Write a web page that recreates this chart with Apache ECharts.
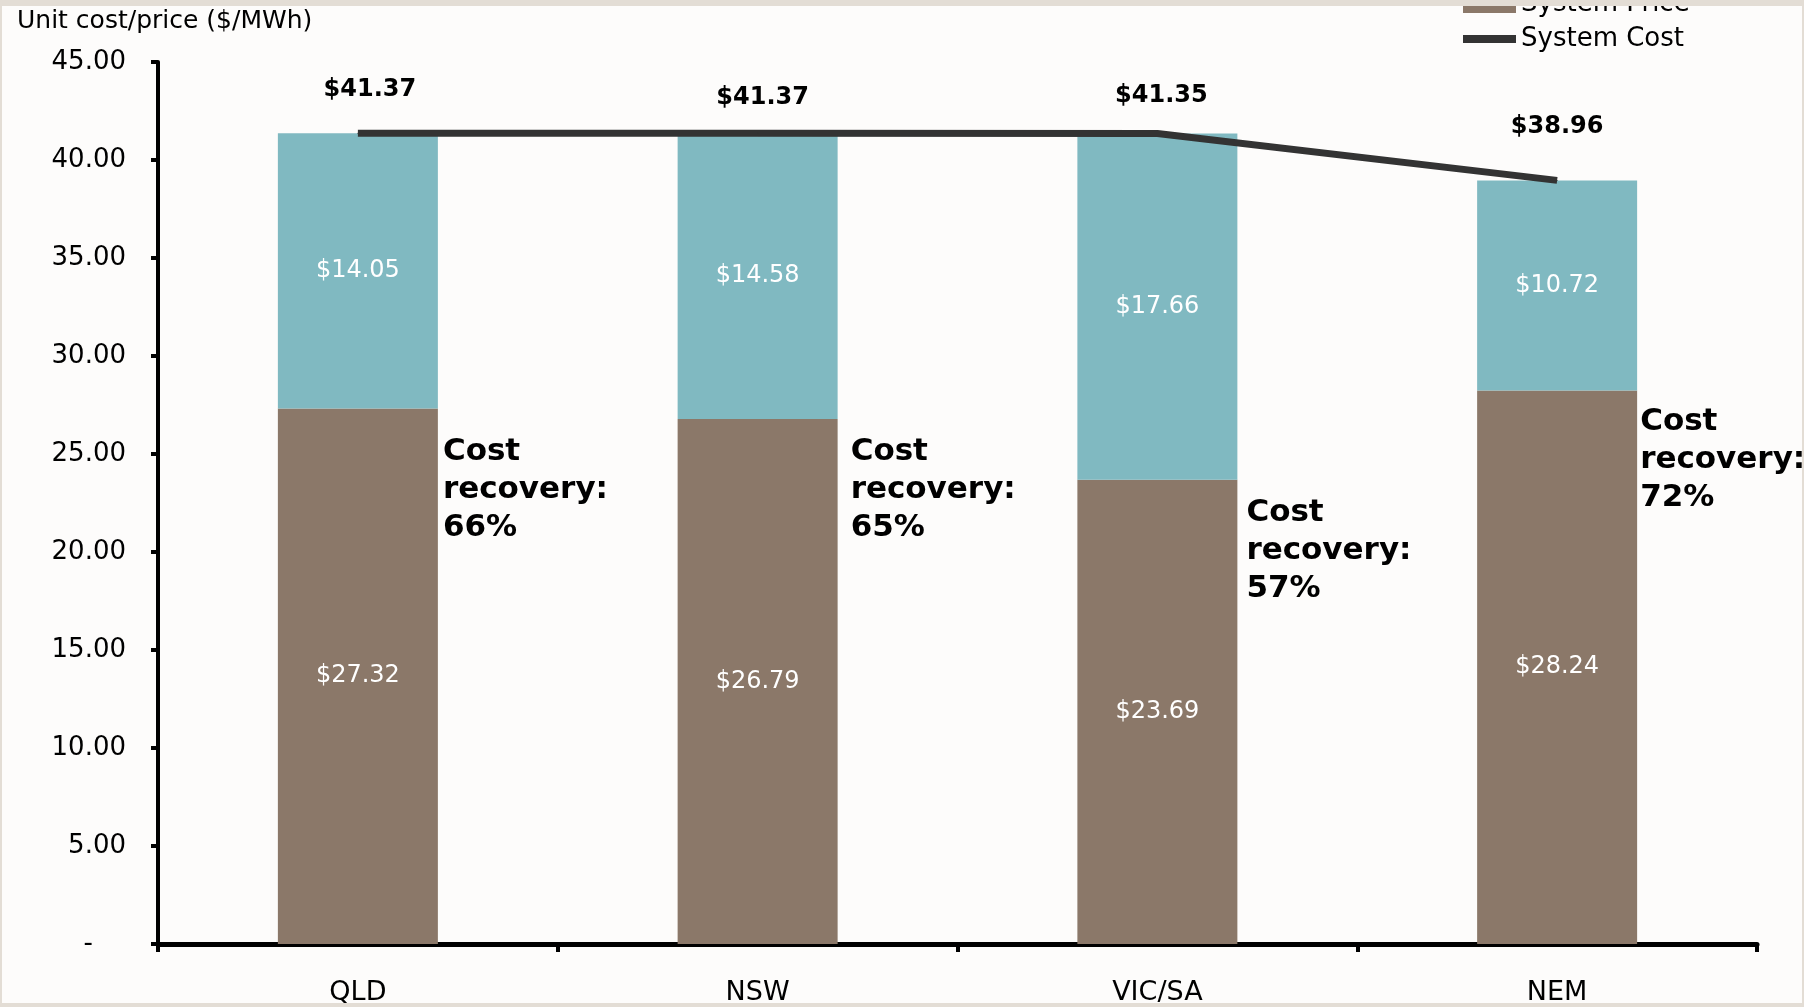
<!DOCTYPE html>
<html>
<head>
<meta charset="utf-8">
<script src="https://cdn.jsdelivr.net/npm/echarts@6/dist/echarts.min.js"></script>
<style>
  html, body { margin: 0; padding: 0; background: #e3ddd5; }
  #chart { position: absolute; left: 2px; top: 6px; width: 1800px; height: 997px; background: #fdfcfb; }
</style>
</head>
<body>
<div id="chart"></div>
<script>
// data
const regions = ['QLD', 'NSW', 'VIC/SA', 'NEM'];
const systemPrice = [27.32, 26.79, 23.69, 28.24];
const costGap = [14.05, 14.58, 17.66, 10.72];
const systemCost = [41.37, 41.37, 41.35, 38.96];
const costRecovery = [66, 65, 57, 72];

// label nudges (px), layout only
const costLabelShift = [[12, -31], [5, -23], [4, -25], [0, -41]];
const recoveryShift = [[5, 24], [13, 14], [9, 14], [3, 12]];

const brown = '#8b7869';
const teal = '#80b9c1';
const money = (v) => '$' + v.toFixed(2);

const chart = echarts.init(document.getElementById('chart'));

const option = {
  animation: false,
  textStyle: { fontFamily: 'DejaVu Sans' },
  title: {
    text: 'Unit cost/price ($/MWh)',
    left: 15,
    top: 3,
    padding: 0,
    textStyle: { fontSize: 25, fontWeight: 'normal', color: '#000', fontFamily: 'DejaVu Sans' },
  },
  legend: {
    orient: 'vertical',
    left: 1456,
    top: -20,
    itemWidth: 53,
    itemHeight: 18,
    itemGap: 9,
    selectedMode: false,
    textStyle: { fontSize: 26, color: '#000' },
    data: [
      { name: 'System Price', icon: 'rect' },
      { name: 'System Cost', icon: 'path://M0,0L53,0L53,8L0,8Z' },
    ],
  },
  grid: { left: 156, right: 45, top: 56, bottom: 59, outerBoundsMode: 'none' },
  xAxis: {
    type: 'category',
    data: regions,
    axisLine: { lineStyle: { color: '#000', width: 5 } },
    axisTick: { show: true, length: 8, lineStyle: { color: '#000', width: 4 } },
    axisLabel: { fontSize: 27, color: '#000', margin: 35 },
  },
  yAxis: {
    type: 'value',
    min: 0,
    max: 45,
    interval: 5,
    splitLine: { show: false },
    axisLine: { show: true, lineStyle: { color: '#000', width: 4 } },
    axisTick: { show: true, length: 7, lineStyle: { color: '#000', width: 4 } },
    axisLabel: {
      fontSize: 26,
      color: '#000',
      margin: 32,
      formatter: (v) => (v === 0 ? '-    ' : v.toFixed(2)),
    },
  },
  series: [
    {
      name: 'System Price',
      type: 'bar',
      stack: 'cost',
      barWidth: 160,
      barGap: '-100%',
      color: brown,
      emphasis: { disabled: true },
      label: { show: true, position: 'inside', color: '#fff', fontSize: 24, formatter: (p) => money(p.value) },
      data: systemPrice,
    },
    {
      name: 'gap',
      type: 'bar',
      stack: 'cost',
      barWidth: 160,
      barGap: '-100%',
      color: teal,
      emphasis: { disabled: true },
      label: { show: true, position: 'inside', color: '#fff', fontSize: 24, formatter: (p) => money(p.value) },
      data: costGap,
    },
    {
      // invisible twin of the price bars, only carries the cost recovery note
      name: 'recovery',
      type: 'bar',
      barWidth: 160,
      barGap: '-100%',
      silent: true,
      itemStyle: { color: 'rgba(0,0,0,0)' },
      emphasis: { disabled: true },
      label: {
        show: true,
        position: ['100%', 0],
        align: 'left',
        verticalAlign: 'top',
        fontSize: 31,
        fontWeight: 'bold',
        lineHeight: 38,
        color: '#000',
        formatter: (p) => 'Cost\nrecovery:\n' + costRecovery[p.dataIndex] + '%',
      },
      data: systemPrice.map((v, i) => ({ value: v, label: { offset: recoveryShift[i] } })),
    },
    {
      name: 'System Cost',
      type: 'line',
      color: '#333',
      symbol: 'circle',
      symbolSize: 1,
      lineStyle: { color: '#333', width: 7 },
      emphasis: { disabled: true },
      label: {
        show: true,
        position: 'top',
        distance: 0,
        fontSize: 24,
        fontWeight: 'bold',
        color: '#000',
        formatter: (p) => money(p.value),
      },
      data: systemCost.map((v, i) => ({ value: v, label: { offset: costLabelShift[i] } })),
    },
  ],
};

chart.setOption(option);
</script>
</body>
</html>
